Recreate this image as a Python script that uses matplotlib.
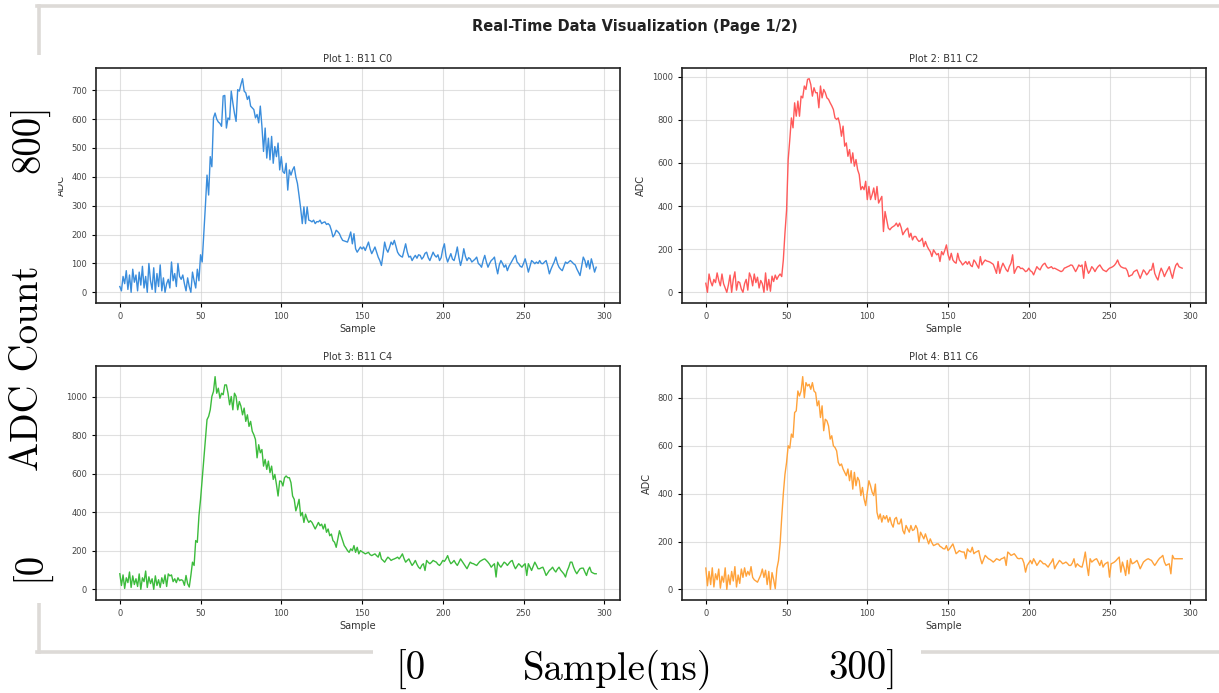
import matplotlib.pyplot as plt
import numpy as np
from matplotlib.patches import Rectangle
from matplotlib.lines import Line2D

# ADC samples, one value per sample (0..295)
c0 = [20, 5, 55, 30, 75, 10, 60, 0, 80, 35,
      60, 5, 70, 25, 90, 15, 55, 0, 100, 40,
      10, 85, 0, 65, 20, 95, 5, 50, 0, 30,
      45, 15, 105, 40, 65, 20, 100, 55, 45, 60,
      30, 5, 50, 20, 0, 70, 40, 15, 80, 40,
      130, 105, 200, 300, 406, 337, 470, 435, 604, 621,
      600, 590, 585, 575, 680, 682, 569, 604, 598, 697,
      656, 620, 592, 702, 697, 720, 740, 697, 691, 668,
      680, 645, 639, 633, 604, 616, 587, 645, 575, 488,
      569, 465, 534, 459, 540, 447, 505, 470, 517, 424,
      470, 418, 412, 447, 354, 424, 406, 424, 435, 400,
      377, 335, 290, 238, 296, 238, 296, 250, 248, 244,
      250, 238, 245, 244, 250, 238, 242, 244, 235, 238,
      232, 215, 192, 200, 215, 210, 203, 190, 180, 178,
      176, 174, 190, 209, 168, 203, 151, 139, 148, 157,
      150, 157, 145, 160, 174, 150, 134, 145, 157, 140,
      122, 110, 93, 130, 174, 150, 139, 155, 174, 165,
      180, 160, 139, 130, 125, 122, 145, 168, 140, 122,
      125, 110, 120, 128, 118, 130, 128, 115, 122, 135,
      139, 120, 110, 125, 139, 128, 122, 130, 110, 120,
      150, 168, 125, 105, 120, 134, 115, 110, 130, 157,
      120, 93, 115, 151, 125, 110, 120, 116, 105, 110,
      115, 122, 100, 95, 87, 110, 128, 105, 87, 100,
      110, 115, 122, 90, 64, 95, 110, 100, 87, 95,
      75, 90, 100, 110, 120, 128, 105, 99, 90, 87,
      100, 116, 95, 70, 90, 110, 105, 99, 105, 100,
      110, 100, 99, 105, 110, 90, 64, 80, 93, 105,
      122, 100, 87, 80, 75, 90, 105, 100, 105, 110,
      105, 99, 95, 81, 70, 58, 90, 122, 110, 87,
      110, 81, 116, 95, 70, 87]

c2 = [42, 0, 85, 50, 30, 60, 45, 90, 55, 30,
      85, 40, 20, 0, 35, 80, 0, 60, 95, 10,
      50, 45, 15, 0, 40, 60, 10, 90, 70, 30,
      85, 45, 70, 20, 55, 40, 0, 90, 10, 60,
      5, 75, 50, 80, 60, 75, 85, 73, 150, 274,
      380, 615, 708, 809, 763, 879, 817, 887, 817, 910,
      902, 957, 941, 988, 991, 964, 910, 949, 926, 926,
      856, 957, 902, 941, 926, 902, 895, 879, 865, 848,
      809, 802, 809, 778, 724, 771, 678, 693, 631, 662,
      600, 647, 585, 616, 569, 546, 476, 491, 476, 515,
      430, 491, 430, 453, 484, 430, 491, 414, 430, 445,
      282, 375, 336, 298, 290, 300, 305, 310, 321, 305,
      321, 300, 267, 280, 290, 298, 256, 274, 243, 259,
      259, 245, 236, 240, 251, 212, 236, 215, 200, 189,
      166, 197, 185, 174, 180, 143, 189, 174, 195, 220,
      175, 150, 181, 150, 140, 135, 181, 150, 140, 127,
      135, 143, 130, 143, 125, 119, 150, 140, 125, 112,
      166, 127, 140, 150, 145, 143, 140, 135, 130, 110,
      88, 143, 88, 115, 135, 120, 105, 96, 120, 135,
      174, 88, 105, 119, 119, 110, 112, 105, 96, 100,
      112, 100, 95, 81, 100, 119, 110, 104, 120, 130,
      135, 120, 112, 115, 119, 110, 112, 108, 104, 100,
      96, 100, 112, 115, 119, 122, 127, 125, 110, 96,
      110, 127, 120, 127, 65, 143, 110, 88, 100, 119,
      110, 96, 110, 120, 127, 115, 104, 100, 96, 105,
      112, 115, 119, 125, 135, 150, 130, 119, 115, 112,
      112, 100, 73, 78, 81, 95, 100, 104, 85, 65,
      85, 104, 95, 81, 90, 104, 104, 135, 88, 70,
      57, 90, 112, 95, 73, 90, 105, 119, 90, 65,
      100, 125, 135, 119, 115, 112]

c4 = [81, 20, 75, 5, 60, 35, 90, 10, 70, 25,
      55, 15, 80, 0, 60, 40, 95, 10, 65, 30,
      55, 0, 70, 20, 50, 10, 60, 30, 75, 15,
      80, 70, 75, 40, 55, 35, 60, 45, 50, 46,
      21, 72, 29, 12, 72, 141, 124, 253, 244, 381,
      467, 570, 674, 777, 880, 897, 931, 1000, 1026, 1103,
      1017, 1043, 991, 1017, 1009, 1060, 1060, 1017, 957, 1000,
      931, 1017, 1000, 931, 974, 950, 905, 940, 871, 905,
      845, 871, 820, 802, 777, 682, 750, 708, 725, 639,
      674, 622, 665, 605, 639, 570, 596, 544, 484, 562,
      560, 536, 579, 588, 579, 579, 553, 484, 467, 407,
      433, 467, 381, 399, 347, 390, 364, 347, 356, 347,
      330, 313, 330, 347, 330, 338, 313, 338, 296, 313,
      278, 287, 253, 244, 218, 261, 304, 278, 253, 227,
      215, 201, 192, 210, 201, 227, 192, 218, 184, 201,
      195, 190, 184, 188, 192, 180, 175, 180, 184, 175,
      167, 192, 158, 150, 141, 155, 167, 160, 150, 155,
      158, 162, 167, 158, 170, 184, 160, 141, 150, 158,
      140, 124, 135, 150, 130, 115, 107, 125, 133, 98,
      150, 140, 133, 140, 150, 145, 141, 130, 124, 135,
      150, 145, 158, 175, 150, 133, 140, 150, 135, 124,
      140, 158, 145, 133, 120, 107, 125, 141, 135, 133,
      128, 124, 135, 145, 150, 155, 158, 150, 141, 130,
      115, 125, 133, 64, 141, 125, 115, 128, 141, 135,
      124, 135, 145, 150, 125, 107, 120, 133, 125, 115,
      125, 133, 72, 133, 115, 98, 120, 141, 125, 107,
      107, 112, 115, 95, 72, 85, 98, 105, 115, 100,
      90, 105, 115, 100, 90, 80, 64, 95, 115, 141,
      141, 115, 95, 81, 95, 107, 110, 110, 90, 72,
      100, 115, 90, 85, 81, 81]

c6 = [89, 15, 75, 20, 90, 10, 65, 40, 85, 5,
      55, 30, 90, 0, 60, 20, 75, 35, 95, 10,
      60, 25, 85, 50, 90, 55, 75, 60, 95, 50,
      40, 35, 30, 45, 60, 85, 50, 80, 20, 75,
      0, 70, 40, 3, 86, 120, 190, 300, 400, 480,
      530, 600, 590, 649, 635, 739, 746, 829, 808, 829,
      889, 801, 864, 850, 857, 836, 864, 829, 822, 767,
      788, 718, 767, 663, 711, 704, 683, 628, 642, 600,
      593, 579, 531, 517, 524, 503, 489, 475, 503, 454,
      496, 419, 489, 433, 468, 454, 392, 426, 378, 350,
      406, 454, 433, 406, 392, 440, 322, 294, 315, 281,
      308, 294, 308, 281, 301, 274, 260, 294, 301, 274,
      274, 294, 246, 232, 267, 253, 239, 267, 246, 250,
      267, 253, 197, 239, 225, 211, 232, 211, 190, 211,
      195, 183, 186, 190, 190, 180, 176, 170, 169, 183,
      162, 170, 180, 190, 170, 149, 155, 162, 158, 156,
      156, 128, 169, 160, 156, 176, 149, 155, 158, 162,
      130, 107, 125, 142, 135, 128, 125, 120, 114, 120,
      128, 125, 121, 128, 130, 135, 100, 156, 150, 142,
      145, 149, 140, 130, 128, 130, 128, 110, 72, 100,
      110, 121, 107, 128, 115, 100, 110, 121, 115, 107,
      107, 100, 93, 105, 114, 128, 86, 100, 110, 121,
      115, 107, 110, 114, 108, 100, 100, 110, 128, 93,
      107, 100, 95, 93, 120, 156, 100, 58, 128, 114,
      120, 125, 128, 115, 100, 121, 93, 105, 110, 114,
      51, 107, 110, 114, 120, 128, 135, 72, 114, 90,
      58, 121, 65, 128, 107, 110, 115, 121, 105, 86,
      100, 114, 120, 125, 128, 124, 121, 110, 100, 110,
      121, 130, 135, 142, 114, 100, 104, 107, 65, 142,
      128, 128, 128, 128, 128, 128]

titles = ['Plot 1: B11 C0', 'Plot 2: B11 C2', 'Plot 3: B11 C4', 'Plot 4: B11 C6']
colors = ['#3a8ddc', '#ff5a5a', '#3cbb3c', '#ffa23a']
series = [c0, c2, c4, c6]

W, H = 1219, 693
fig = plt.figure(figsize=(W / 100, H / 100), dpi=100)


def px_box(l, t, r, b):
    return [l / W, 1 - b / H, (r - l) / W, (b - t) / H]


boxes = [(96, 68, 620, 303), (682, 68, 1206, 303),
         (96, 366, 620, 600), (682, 366, 1206, 600)]

for i in range(4):
    ax = fig.add_axes(px_box(*boxes[i]))
    y = series[i]
    ax.plot(np.arange(len(y)), y, color=colors[i], lw=1.0)
    ax.set_title(titles[i], fontsize=7, pad=4, color='#333333')
    ax.set_xlabel('Sample', fontsize=7, color='#333333', labelpad=2)
    ax.set_ylabel('ADC', fontsize=7, color='#333333')
    ax.set_xticks([0, 50, 100, 150, 200, 250, 300])
    ax.tick_params(labelsize=6, labelcolor='#444444', length=3, width=0.8)
    ax.grid(True, color='#cccccc', alpha=0.6, lw=0.8)
    for s in ax.spines.values():
        s.set_linewidth(1.2)
        s.set_color('#222222')

fig.text(635 / W, 1 - 27 / H, 'Real-Time Data Visualization (Page 1/2)',
         ha='center', va='center', fontsize=10.5, fontweight='bold', color='#222222')

# frame of the screenshot
fc = '#dddad7'
lw = 2.6
fig.add_artist(Line2D([37 / W, 1], [1 - 6 / H, 1 - 6 / H], color=fc, lw=lw, zorder=1))
fig.add_artist(Line2D([39 / W, 39 / W], [1 - 6 / H, 1 - 652 / H], color=fc, lw=lw, zorder=1))
fig.add_artist(Line2D([37 / W, 1], [1 - 652 / H, 1 - 652 / H], color=fc, lw=lw, zorder=1))

# white patches behind the overlaid labels
fig.add_artist(Rectangle((0, 1 - 603 / H), 58 / W, 548 / H, transform=fig.transFigure,
                         facecolor='white', edgecolor='none', zorder=5))
fig.add_artist(Rectangle((373 / W, 0), 548 / W, 48 / H, transform=fig.transFigure,
                         facecolor='white', edgecolor='none', zorder=5))

cm = dict(fontfamily='cmr10', fontsize=28, color='black', zorder=6)
fig.text(30 / W, 1 - 139 / H, '800]', rotation=90, ha='center', va='center', **cm)
fig.text(28 / W, 1 - 368 / H, 'ADC Count', rotation=90, ha='center', va='center', **cm)
fig.text(30 / W, 1 - 566 / H, '[0', rotation=90, ha='center', va='center', **cm)
fig.text(410 / W, 1 - 670 / H, '[0', ha='center', va='center', **cm)
fig.text(618 / W, 1 - 670 / H, 'Sample(ns)', ha='center', va='center', **cm)
fig.text(863 / W, 1 - 670 / H, '300]', ha='center', va='center', **cm)

plt.savefig('out.png', dpi=100)
